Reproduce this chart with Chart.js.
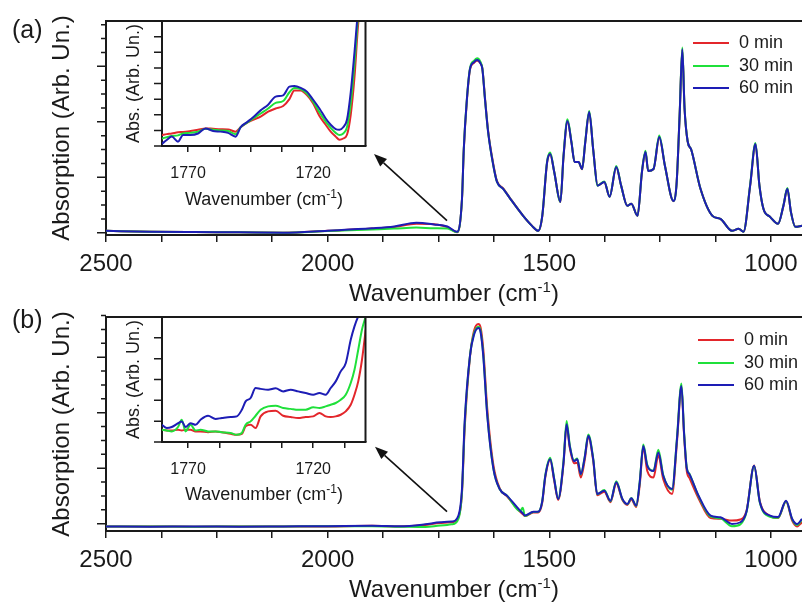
<!DOCTYPE html>
<html>
<head>
<meta charset="utf-8">
<title>FTIR spectra</title>
<script src="https://cdn.jsdelivr.net/npm/chart.js@4.4.1/dist/chart.umd.min.js"></script>
<style>
  html, body { margin: 0; padding: 0; background: #fff; }
  body { width: 802px; height: 606px; overflow: hidden; position: relative;
         font-family: 'Liberation Sans', Arial, sans-serif; color: #1a1a1a; }
  .panel { position: absolute; left: 0; width: 802px; height: 310px; }
  .panel canvas { position: absolute; }
  .main { left: 0; top: 0; width: 802px; height: 300px; }
  .inset { left: 100px; top: 15px; width: 280px; height: 200px; }
  .tag { position: absolute; left: 12px; font-size: 25px; line-height: 28px; }
  .xtitle { position: absolute; left: 106px; width: 696px; text-align: center;
            font-size: 24px; line-height: 28px; white-space: nowrap; }
  .xtitle sup { font-size: 15px; vertical-align: 9px; line-height: 0; }
  .ititle { position: absolute; left: 162px; width: 204px; text-align: center;
            font-size: 18px; line-height: 22px; white-space: nowrap; }
  .ititle sup { font-size: 12px; vertical-align: 7px; line-height: 0; }
  .legend { position: absolute; font-size: 18px; }
  .legend div { height: 22.5px; line-height: 22.5px; white-space: nowrap; }
  .legend span { display: inline-block; width: 36px; height: 2px; margin-right: 10px; vertical-align: middle; }
  svg { position: absolute; left: 0; top: 0; }
</style>
</head>
<body>

<div class="panel" style="top:0px">
  <canvas id="mainA" class="main" width="802" height="300"></canvas>
  <canvas id="insetA" class="inset" width="280" height="200"></canvas>
  <div class="tag" style="top:15px">(a)</div>
  <div class="xtitle" style="top:279px">Wavenumber (cm<sup>-1</sup>)</div>
  <div class="ititle" style="top:188px">Wavenumber (cm<sup>-1</sup>)</div>
  <div class="legend" style="left:693px; top:31px">
    <div><span style="background:#e3262b"></span>0 min</div>
    <div><span style="background:#1fe03a"></span>30 min</div>
    <div><span style="background:#1d1db5"></span>60 min</div>
  </div>
  <svg width="802" height="300">
    <line x1="447" y1="220.7" x2="383.6" y2="162.8" stroke="#111" stroke-width="1.6"/>
    <polygon points="374,154 387,159.1 380.2,166.5" fill="#111"/>
  </svg>
</div>

<div class="panel" style="top:296px">
  <canvas id="mainB" class="main" width="802" height="300"></canvas>
  <canvas id="insetB" class="inset" width="280" height="200"></canvas>
  <div class="tag" style="top:9px">(b)</div>
  <div class="xtitle" style="top:279px">Wavenumber (cm<sup>-1</sup>)</div>
  <div class="ititle" style="top:187px">Wavenumber (cm<sup>-1</sup>)</div>
  <div class="legend" style="left:698px; top:32px">
    <div><span style="background:#e3262b"></span>0 min</div>
    <div><span style="background:#1fe03a"></span>30 min</div>
    <div><span style="background:#1d1db5"></span>60 min</div>
  </div>
  <svg width="802" height="300">
    <line x1="447" y1="215.7" x2="384.6" y2="159.4" stroke="#111" stroke-width="1.6"/>
    <polygon points="375,150.7 388,155.7 381.3,163.1" fill="#111"/>
  </svg>
</div>

<script>
// ---- axis ticks ----
const mainXTicks = [1000, 1125, 1250, 1375, 1500, 1625, 1750, 1875, 2000, 2125, 2250, 2375, 2500];
const mainXLabels = [1000, 1500, 2000, 2500];
const mainYTicks = [0, 1, 2, 3, 4, 5, 6, 7, 8, 9, 10, 11, 12, 13, 14, 15];
const insetXTicks = [1707.5, 1720, 1732.5, 1745, 1757.5, 1770];
const insetXLabels = [1720, 1770];
const insetAYTicks = [0, 1.25, 2.5, 3.75, 5, 6.25, 7.5, 8.75, 10];
const insetBYTicks = [0, 1.667, 3.333, 5, 6.667, 8.333, 10];

// ---- panel (a), full spectrum ----
const wnA = [2500, 2400, 2300, 2200, 2100, 2000, 1900, 1850, 1800, 1760,
  1730, 1708, 1697, 1693, 1686, 1679, 1670, 1663, 1655, 1651,
  1645, 1638, 1626, 1618, 1604, 1588, 1559, 1539, 1525, 1516,
  1505, 1498, 1489, 1475, 1468, 1459, 1450, 1443, 1434, 1426,
  1419, 1410, 1401, 1391, 1376, 1364, 1349, 1338, 1324, 1315,
  1301, 1291, 1283, 1277, 1265, 1252, 1239, 1220, 1213, 1206,
  1200, 1195, 1188, 1180, 1159, 1132, 1114, 1088, 1073, 1062,
  1047, 1035, 1026, 1017, 1002, 984, 972, 963, 955, 945, 930];
const redA = [0.14, 0.08, 0.05, 0.03, 0.0, 0.14, 0.3, 0.42, 0.65, 0.62,
  0.42, 0.04, 2.4, 5.9, 9.5, 11.75, 12.25, 12.42, 12.2, 11.85,
  9.7, 7.35, 4.9, 3.72, 3.2, 2.47, 1.22, 0.5, 0.12, 1.15,
  5.05, 5.66, 4.4, 2.22, 5.45, 8.02, 6.5, 5.12, 5.1, 4.58,
  6.48, 8.68, 6.0, 3.42, 3.66, 2.6, 4.72, 3.4, 1.95, 2.1,
  1.22, 4.38, 5.8, 4.46, 4.58, 6.85, 4.8, 2.28, 3.5, 8.45,
  13.2, 9.0, 6.6, 6.0, 3.17, 1.22, 1.0, 0.14, 0.29, 0.07,
  3.38, 6.38, 3.4, 1.73, 1.15, 0.65, 1.92, 3.15, 1.5, 0.43, 0.5];
const greenA = [0.14, 0.08, 0.05, 0.03, 0.0, 0.12, 0.24, 0.3, 0.38, 0.32,
  0.3, 0.05, 2.42, 6.0, 9.6, 11.85, 12.4, 12.58, 12.3, 11.85,
  9.6, 7.25, 4.8, 3.67, 3.17, 2.45, 1.22, 0.5, 0.14, 1.2,
  5.15, 5.78, 4.4, 2.23, 5.55, 8.18, 6.55, 5.1, 5.1, 4.6,
  6.55, 8.78, 6.0, 3.4, 3.7, 2.6, 4.82, 3.4, 1.94, 2.1,
  1.22, 4.45, 5.92, 4.46, 4.6, 7.02, 4.8, 2.3, 3.5, 8.55,
  13.36, 9.05, 6.6, 6.0, 3.17, 1.22, 1.0, 0.14, 0.29, 0.07,
  3.45, 6.48, 3.4, 1.73, 1.15, 0.65, 1.96, 3.22, 1.5, 0.43, 0.5];
const blueA = [0.14, 0.08, 0.05, 0.03, 0.0, 0.15, 0.32, 0.45, 0.72, 0.6,
  0.45, 0.07, 2.45, 6.0, 9.6, 11.8, 12.3, 12.45, 12.2, 11.8,
  9.6, 7.25, 4.8, 3.67, 3.17, 2.45, 1.22, 0.5, 0.14, 1.2,
  5.1, 5.68, 4.4, 2.23, 5.5, 8.06, 6.5, 5.1, 5.1, 4.6,
  6.5, 8.7, 6.0, 3.4, 3.67, 2.6, 4.75, 3.4, 1.94, 2.1,
  1.22, 4.4, 5.83, 4.46, 4.6, 6.9, 4.8, 2.3, 3.5, 8.5,
  13.24, 9.0, 6.6, 6.0, 3.17, 1.22, 1.0, 0.14, 0.29, 0.07,
  3.4, 6.4, 3.4, 1.73, 1.15, 0.65, 1.94, 3.17, 1.5, 0.43, 0.5];

// ---- panel (a), inset 1780-1700 ----
const wnIa = [1780.5, 1778.5, 1776.5, 1774, 1772, 1769, 1766, 1763, 1760, 1757,
  1754, 1751, 1749, 1746.5, 1744, 1741, 1738, 1735, 1732, 1729.5,
  1727.5, 1725, 1722.5, 1720, 1717.5, 1715, 1713, 1711, 1709.5, 1708,
  1706.5, 1705, 1703.5, 1702, 1700.5, 1699];
const redIa = [0.88, 0.95, 1.0, 1.1, 1.12, 1.2, 1.3, 1.41, 1.38, 1.35,
  1.33, 1.15, 1.5, 1.85, 2.1, 2.35, 2.75, 3.0, 3.2, 3.75,
  4.45, 4.43, 4.08, 3.41, 2.4, 1.7, 1.15, 0.75, 0.5, 0.6,
  0.9, 2.5, 5.5, 9.8, 12, 12];
const greenIa = [0.6, 0.7, 0.8, 0.85, 1.0, 1.05, 1.15, 1.38, 1.3, 1.25,
  1.2, 0.95, 1.5, 1.85, 2.2, 2.6, 3.0, 3.45, 3.6, 4.3,
  4.65, 4.55, 4.2, 3.55, 2.7, 1.95, 1.45, 1.05, 0.88, 1.0,
  1.5, 3.4, 6.6, 10.5, 13, 13];
const blueIa = [0.16, 0.48, 0.75, 0.35, 0.88, 0.88, 1.0, 1.41, 1.2, 1.15,
  1.05, 0.75, 1.5, 1.9, 2.3, 2.85, 3.3, 3.95, 4.05, 4.75,
  4.8, 4.65, 4.35, 3.7, 3.0, 2.2, 1.7, 1.35, 1.3, 1.5,
  2.1, 4.3, 7.5, 11, 13, 13];

// ---- panel (b), full spectrum ----
const wnB = [2500, 2400, 2300, 2200, 2100, 2000, 1900, 1836, 1780, 1746,
  1720, 1705, 1697, 1691, 1679, 1670, 1660, 1655, 1649, 1640,
  1626, 1612, 1595, 1566, 1560, 1555, 1536, 1525, 1516, 1509,
  1498, 1489, 1480, 1468, 1461, 1454, 1444, 1437, 1429, 1420,
  1412, 1401, 1392, 1376, 1362, 1349, 1335, 1324, 1315, 1304,
  1296, 1288, 1279, 1265, 1254, 1243, 1223, 1212, 1202, 1196,
  1190, 1184, 1163, 1136, 1114, 1088, 1069, 1055, 1038, 1025,
  1002, 984, 966, 952, 941, 930];
const redB = [-0.2, -0.2, -0.22, -0.2, -0.21, -0.2, -0.16, -0.2, -0.1, 0.05,
  0.1, 0.45, 2.2, 6.8, 12.0, 13.9, 14.4, 14.15, 12.6, 8.3,
  4.2, 2.55, 1.95, 0.85, 0.7, 0.55, 0.8, 0.8, 1.5, 3.35,
  4.6, 3.1, 1.7, 4.3, 7.1, 5.5, 4.35, 4.4, 3.33, 4.6,
  6.25, 4.55, 2.05, 2.3, 1.55, 2.9, 1.7, 1.35, 1.75, 1.2,
  2.8, 5.5, 3.8, 3.33, 4.9, 3.2, 2.14, 5.9, 9.85, 6.4,
  3.8, 3.3, 1.8, 0.4, 0.35, 0.22, 0.3, 0.95, 4.2, 1.6,
  0.55, 0.4, 1.6, 0.2, -0.2, 0.1];
const greenB = [-0.2, -0.21, -0.22, -0.2, -0.2, -0.19, -0.18, -0.22, -0.25, -0.14,
  -0.05, 0.35, 2.3, 7.1, 12.1, 13.7, 14.2, 13.9, 12.2, 7.9,
  3.95, 2.5, 2.0, 0.9, 1.15, 0.55, 0.84, 0.86, 1.62, 3.5,
  4.75, 3.25, 1.8, 4.5, 7.4, 5.7, 4.55, 4.7, 3.55, 4.85,
  6.42, 4.7, 2.12, 2.42, 1.62, 3.05, 1.75, 1.4, 1.85, 1.28,
  3.05, 5.7, 4.25, 3.82, 5.32, 3.5, 2.45, 6.2, 10.1, 6.6,
  4.05, 3.6, 1.95, 0.5, 0.38, -0.19, -0.05, 0.85, 4.15, 1.5,
  0.5, 0.42, 1.62, 0.3, -0.1, 0.3];
const blueB = [-0.2, -0.22, -0.2, -0.22, -0.2, -0.18, -0.15, -0.19, -0.05, 0.1,
  0.15, 0.58, 2.5, 7.3, 12.1, 13.6, 14.1, 13.8, 12.1, 7.8,
  3.94, 2.5, 2.0, 0.94, 0.75, 0.58, 0.86, 0.86, 1.6, 3.45,
  4.65, 3.2, 1.78, 4.4, 7.17, 5.6, 4.5, 4.65, 3.57, 4.8,
  6.33, 4.65, 2.14, 2.37, 1.65, 2.98, 1.78, 1.42, 1.83, 1.3,
  3.0, 5.6, 4.17, 3.8, 5.13, 3.45, 2.5, 6.1, 9.93, 6.5,
  4.0, 3.57, 2.0, 0.58, 0.46, -0.02, 0.1, 0.9, 4.17, 1.54,
  0.58, 0.48, 1.65, 0.34, -0.02, 0.34];

// ---- panel (b), inset 1780-1700 ----
const wnIb = [1780.5, 1778.5, 1776.5, 1774, 1772.5, 1771, 1769, 1767, 1765, 1762,
  1759, 1756.5, 1753, 1750.5, 1748.5, 1747, 1745, 1743, 1741, 1738,
  1735, 1732, 1729, 1726, 1723, 1720, 1717.5, 1715, 1713, 1711,
  1709, 1707, 1705, 1703.5, 1702, 1700.5, 1699];
const redIb = [0.98, 0.92, 0.92, 0.98, 0.92, 0.98, 0.98, 0.85, 0.85, 0.78,
  0.85, 0.78, 0.65, 0.58, 0.65, 1.25, 1.38, 1.12, 2.05, 2.45,
  2.5, 2.1, 2.0, 1.92, 2.0, 2.05, 2.32, 2.05, 2.0, 2.05,
  2.18, 2.45, 2.98, 3.78, 4.85, 6.58, 9.0];
const greenIb = [0.98, 0.92, 0.85, 1.2, 1.78, 0.85, 1.38, 0.92, 0.98, 0.85,
  0.85, 0.78, 0.72, 0.58, 0.72, 1.38, 1.65, 2.1, 2.58, 2.85,
  2.9, 2.72, 2.65, 2.58, 2.58, 2.78, 2.72, 2.85, 2.98, 3.12,
  3.38, 3.78, 4.72, 5.78, 7.38, 9.0, 10.05];
const blueIb = [1.38, 1.12, 1.2, 1.5, 1.65, 1.2, 1.5, 1.38, 1.78, 2.1,
  1.85, 1.92, 2.0, 2.05, 2.58, 3.25, 3.52, 4.32, 4.25, 4.18,
  4.3, 4.05, 4.18, 4.05, 3.92, 3.78, 3.92, 3.78, 4.32, 4.85,
  5.65, 6.3, 8.18, 9.25, 10.05, 10.6, 11];

const FONT = "'Liberation Sans', Arial, sans-serif";
const INK = '#1a1a1a';
const RED = '#e3262b';
const GREEN = '#1fe03a';
const BLUE = '#1d1db5';

// top/right frame lines and y tick marks (two lengths) on the y scale
const framePlugin = {
    id: 'frame',
    afterDraw(chart, args, opts) {
        const { ctx, chartArea: a } = chart;
        const y = chart.scales.y;
        ctx.save();
        ctx.strokeStyle = INK;
        ctx.lineWidth = opts.width;
        ctx.beginPath();
        ctx.moveTo(a.left, a.top);
        ctx.lineTo(a.right, a.top);
        if (opts.right) ctx.lineTo(a.right, a.bottom);
        ctx.stroke();
        ctx.lineWidth = 1.5;
        ctx.beginPath();
        opts.ticks.forEach((v, i) => {
            const py = y.getPixelForValue(v);
            const len = opts.majorEvery && i % opts.majorEvery === 0 ? opts.majorLen : opts.minorLen;
            ctx.moveTo(a.left - len, py);
            ctx.lineTo(a.left, py);
        });
        ctx.stroke();
        ctx.restore();
    }
};

function makeSets(xs, red, green, blue, width) {
    const points = ys => xs.map((x, i) => ({ x: x, y: ys[i] }));
    return [
        { label: '0 min', data: points(red), borderColor: RED, order: 3 },
        { label: '30 min', data: points(green), borderColor: GREEN, order: 2 },
        { label: '60 min', data: points(blue), borderColor: BLUE, order: 1 }
    ].map(d => ({ ...d, borderWidth: width, pointRadius: 0, fill: false, cubicInterpolationMode: 'monotone' }));
}

function mainChart(id, xs, red, green, blue, yMin, yMax) {
    return new Chart(document.getElementById(id), {
        type: 'line',
        data: { datasets: makeSets(xs, red, green, blue, 2) },
        plugins: [framePlugin],
        options: {
            responsive: false,
            animation: false,
            events: [],
            layout: { padding: { top: 21, left: 0, right: 0, bottom: 0 } },
            plugins: {
                legend: { display: false },
                tooltip: { enabled: false },
                frame: { ticks: mainYTicks, majorEvery: 4, majorLen: 9, minorLen: 5, right: false, width: 2 }
            },
            scales: {
                x: {
                    type: 'linear', reverse: true, min: 930, max: 2500,
                    afterBuildTicks: s => { s.ticks = mainXTicks.map(v => ({ value: v })); },
                    afterFit: s => { s.height = 65; },
                    ticks: {
                        autoSkip: false, maxRotation: 0, padding: 8, color: INK,
                        font: { family: FONT, size: 24 },
                        callback: v => mainXLabels.includes(v) ? String(v) : ''
                    },
                    grid: { drawOnChartArea: false, color: INK, lineWidth: 1.5, tickLength: 7 },
                    border: { color: INK, width: 2 }
                },
                y: {
                    min: yMin, max: yMax,
                    afterFit: s => { s.width = 106; },
                    ticks: { display: false },
                    grid: { display: false },
                    border: { color: INK, width: 2 },
                    title: {
                        display: true, text: 'Absorption (Arb. Un.)', color: INK,
                        font: { family: FONT, size: 24 }, padding: { top: 48, bottom: 0 }
                    }
                }
            }
        }
    });
}

function insetChart(id, xs, red, green, blue, yTicks) {
    return new Chart(document.getElementById(id), {
        type: 'line',
        data: { datasets: makeSets(xs, red, green, blue, 2) },
        plugins: [framePlugin],
        options: {
            responsive: false,
            animation: false,
            events: [],
            layout: { padding: { top: 6, left: 0, right: 14.5, bottom: 0 } },
            plugins: {
                legend: { display: false },
                tooltip: { enabled: false },
                frame: { ticks: yTicks, majorEvery: 0, minorLen: 8, right: true, width: 2 }
            },
            scales: {
                x: {
                    type: 'linear', reverse: true, min: 1699.1, max: 1780.4,
                    afterBuildTicks: s => { s.ticks = insetXTicks.map(v => ({ value: v })); },
                    afterFit: s => { s.height = 69; },
                    ticks: {
                        autoSkip: false, maxRotation: 0, padding: 12, color: INK,
                        font: { family: FONT, size: 16 },
                        callback: v => insetXLabels.includes(v) ? String(v) : ''
                    },
                    grid: { drawOnChartArea: false, color: INK, lineWidth: 1.5, tickLength: 6 },
                    border: { color: INK, width: 2 }
                },
                y: {
                    min: 0, max: 10,
                    afterFit: s => { s.width = 62; },
                    ticks: { display: false },
                    grid: { display: false },
                    border: { color: INK, width: 2 },
                    title: {
                        display: true, text: 'Abs. (Arb. Un.)', color: INK,
                        font: { family: FONT, size: 18 }, padding: { top: 23, bottom: 0 }
                    }
                }
            }
        }
    });
}

mainChart('mainA', wnA, redA, greenA, blueA, -0.16, 15.27);
insetChart('insetA', wnIa, redIa, greenIa, blueIa, insetAYTicks);
mainChart('mainB', wnB, redB, greenB, blueB, -0.53, 14.9);
insetChart('insetB', wnIb, redIb, greenIb, blueIb, insetBYTicks);
</script>
</body>
</html>
